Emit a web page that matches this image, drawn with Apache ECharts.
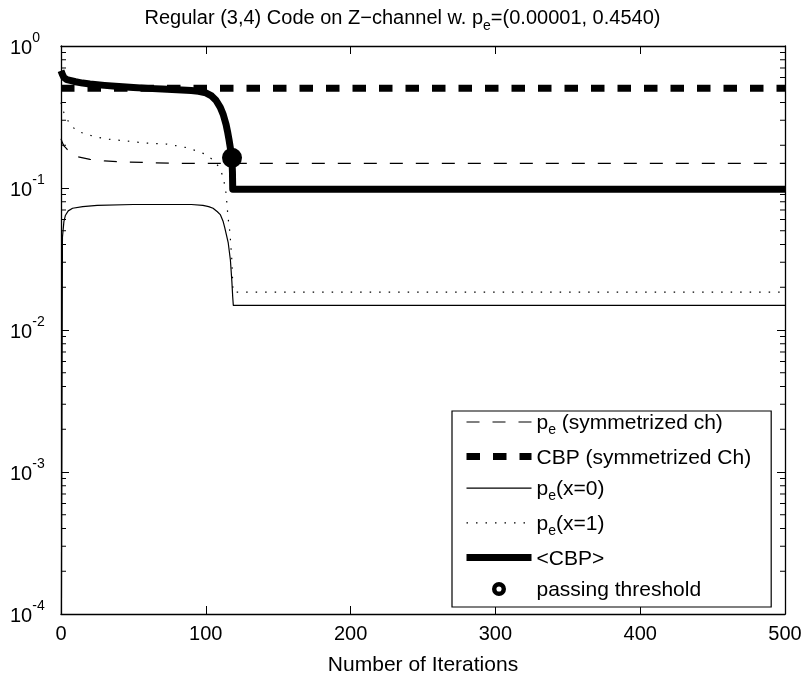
<!DOCTYPE html>
<html>
<head>
<meta charset="utf-8">
<script src="https://cdn.jsdelivr.net/npm/echarts@6/dist/echarts.min.js"></script>
<style>html,body{margin:0;padding:0;background:#fff}#c{width:805px;height:681px}</style>
</head>
<body>
<div id="c"></div>
<script>
// ---- data ----
const xTicks = [0, 100, 200, 300, 400, 500];
const minorTickValues = [];
[1e-4, 1e-3, 1e-2, 1e-1].forEach(function (d) { for (let k = 2; k <= 9; k++) minorTickValues.push(+(k * d).toPrecision(3)); });

const peSymIter = [0, 1, 2, 3.7, 6, 11.7, 20, 30, 40, 60, 80, 500];
const peSymVal  = [0.222, 0.208, 0.198, 0.19, 0.178, 0.166, 0.159, 0.155, 0.153, 0.151, 0.149, 0.149];

const cbpSymIter = [0, 500];
const cbpSymVal  = [0.504, 0.504];

const pe0Iter = [0, 1, 2, 3, 5, 8, 15, 25, 50, 90, 98, 102, 105, 108, 110, 112, 113, 114, 115.5, 117, 118, 118.6, 119, 500];
const pe0Val  = [1e-5, 0.045, 0.058, 0.064, 0.069, 0.072, 0.074, 0.0755, 0.0765, 0.0765, 0.0755, 0.074, 0.072, 0.068, 0.065, 0.058, 0.053, 0.048, 0.041, 0.031, 0.022, 0.017, 0.0149, 0.0149];

const pe1Iter = [0, 1, 2, 3, 6, 11, 17, 24, 32, 46, 59, 73, 79, 86, 92, 99, 105, 109, 112, 114, 115.3, 116.7, 118, 118.8, 500];
const pe1Val  = [0.40, 0.36, 0.34, 0.33, 0.282, 0.252, 0.24, 0.229, 0.221, 0.214, 0.207, 0.204, 0.199, 0.193, 0.185, 0.174, 0.158, 0.141, 0.12, 0.092, 0.063, 0.048, 0.031, 0.0185, 0.0185];

const cbpIter = [0, 1, 2, 4, 7, 10, 15, 20, 30, 40, 50, 60, 70, 80, 90, 95, 100, 104, 107, 110, 112, 114, 115, 116, 117, 117.5, 118, 118.4, 118.6, 500];
const cbpVal  = [0.67, 0.63, 0.6, 0.58, 0.57, 0.56, 0.548, 0.54, 0.528, 0.518, 0.51, 0.503, 0.497, 0.492, 0.486, 0.48, 0.468, 0.445, 0.415, 0.37, 0.33, 0.28, 0.25, 0.22, 0.19, 0.175, 0.163, 0.13, 0.098, 0.098];

const thresholdIter = [118.1];
const thresholdVal  = [0.163];

const names = ['pe_sym', 'cbp_sym', 'pe_x0', 'pe_x1', 'cbp_avg', 'threshold'];
const legendLabels = {
  pe_sym: '{n|p}{sub|e}{n| (symmetrized ch)}',
  cbp_sym: '{n|CBP (symmetrized Ch)}',
  pe_x0: '{n|p}{sub|e}{n|(x=0)}',
  pe_x1: '{n|p}{sub|e}{n|(x=1)}',
  cbp_avg: '{n|<CBP>}',
  threshold: '{n|passing threshold}'
};

function zip(a, b) { return a.map(function (v, i) { return [v, b[i]]; }); }

const FONT = '"Liberation Sans", Arial, Helvetica, sans-serif';
const chart = echarts.init(document.getElementById('c'), null, { renderer: 'canvas' });

const ringPath = 'path://M0,-6A6,6,0,1,1,0,6A6,6,0,1,1,0,-6ZM0,-2.2A2.2,2.2,0,1,0,0,2.2A2.2,2.2,0,1,0,0,-2.2Z';
const hiddenSymbol = { color: 'rgba(0,0,0,0)', borderColor: 'rgba(0,0,0,0)', borderWidth: 0 };

const option = {
  animation: false,
  backgroundColor: '#fff',
  textStyle: { fontFamily: FONT, color: '#000', fontWeight: 'normal' },
  title: {
    text: '{t|Regular (3,4) Code on Z\u2212channel w. p}{sub|e}{t|=(0.00001, 0.4540)}',
    left: 'center',
    top: 3,
    textStyle: {
      fontWeight: 'normal',
      rich: {
        t: { fontFamily: FONT, fontSize: 20, fontWeight: 'normal', verticalAlign: 'top', padding: [0, 0, 5, 0], color: '#000' },
        sub: { fontFamily: FONT, fontSize: 14, fontWeight: 'normal', verticalAlign: 'bottom', color: '#000' }
      }
    }
  },
  grid: { left: 61, right: 20, top: 46, bottom: 66, containLabel: false },
  legend: {
    data: names.map(function (n) {
      if (n === 'threshold') return { name: n, icon: ringPath, itemStyle: { color: '#000', borderWidth: 0 } };
      return { name: n, itemStyle: hiddenSymbol };
    }),
    orient: 'vertical',
    left: 452,
    top: 411,
    itemWidth: 65,
    itemHeight: 14,
    itemGap: 10.6,
    padding: [2, 20, 6, 11],
    borderColor: '#000',
    borderWidth: 1.2,
    backgroundColor: '#fff',
    selectedMode: false,
    lineStyle: { width: 'inherit' },
    formatter: function (name) { return legendLabels[name]; },
    textStyle: {
      rich: {
        n: { fontFamily: FONT, fontSize: 21, verticalAlign: 'top', padding: [6, 0, 3, 0], color: '#000' },
        sub: { fontFamily: FONT, fontSize: 14, verticalAlign: 'bottom', color: '#000' }
      }
    }
  },
  xAxis: [
    {
      type: 'value', min: 0, max: 500, interval: 100, position: 'bottom',
      name: 'Number of Iterations', nameLocation: 'middle', nameGap: 41,
      nameTextStyle: { fontFamily: FONT, fontSize: 21, color: '#000' },
      axisLine: { show: true, onZero: false, lineStyle: { color: '#000', width: 1.3 } },
      axisTick: { show: true, inside: true, length: 8, lineStyle: { color: '#000', width: 1 } },
      axisLabel: { fontFamily: FONT, fontSize: 20, color: '#000', margin: 10 },
      splitLine: { show: false }
    },
    {
      type: 'value', min: 0, max: 500, interval: 100, position: 'top',
      axisLine: { show: true, onZero: false, lineStyle: { color: '#000', width: 1.3 } },
      axisTick: { show: true, inside: true, length: 8, lineStyle: { color: '#000', width: 1 } },
      axisLabel: { show: false },
      splitLine: { show: false }
    }
  ],
  yAxis: [
    {
      type: 'log', logBase: 10, min: 1e-4, max: 1, position: 'left',
      axisLine: { show: true, onZero: false, lineStyle: { color: '#000', width: 1.3 } },
      axisTick: { show: true, inside: true, length: 8, lineStyle: { color: '#000', width: 1 } },
      axisLabel: {
        fontFamily: FONT, color: '#000', margin: 51, align: 'left',
        formatter: function (v) {
          const e = Math.round(Math.log10(v));
          return '{b|10}{s|' + (e < 0 ? '-' + (-e) : e) + '}';
        },
        rich: {
          b: { fontFamily: FONT, fontSize: 20, verticalAlign: 'bottom', padding: [7, 0, 3, 0], color: '#000' },
          s: { fontFamily: FONT, fontSize: 14, verticalAlign: 'top', color: '#000' }
        }
      },
      splitLine: { show: false }
    },
    {
      type: 'log', logBase: 10, min: 1e-4, max: 1, position: 'right',
      axisLine: { show: true, onZero: false, lineStyle: { color: '#000', width: 1.3 } },
      axisTick: { show: true, inside: true, length: 8, lineStyle: { color: '#000', width: 1 } },
      axisLabel: { show: false },
      splitLine: { show: false }
    }
  ],
  series: [
    {
      name: 'minorTicks', type: 'custom', silent: true, clip: false,
      xAxisIndex: 0, yAxisIndex: 0,
      data: minorTickValues.map(function (v) { return [0, v]; }),
      encode: { x: 0, y: 1 },
      renderItem: function (params, api) {
        const p = api.coord([0, api.value(1)]);
        const cs = params.coordSys;
        const st = { stroke: '#000', lineWidth: 1 };
        return {
          type: 'group',
          children: [
            { type: 'line', shape: { x1: cs.x, y1: p[1], x2: cs.x + 5, y2: p[1] }, style: st },
            { type: 'line', shape: { x1: cs.x + cs.width, y1: p[1], x2: cs.x + cs.width - 5, y2: p[1] }, style: st }
          ]
        };
      }
    },
    {
      name: 'pe_sym', type: 'line', symbol: 'none', data: zip(peSymIter, peSymVal),
      lineStyle: { color: '#000', width: 1.2, type: [13, 13] }, itemStyle: { color: '#000' }
    },
    {
      name: 'cbp_sym', type: 'line', symbol: 'none', data: zip(cbpSymIter, cbpSymVal),
      lineStyle: { color: '#000', width: 7, type: [13.5, 13], cap: 'butt' }, itemStyle: { color: '#000' }
    },
    {
      name: 'pe_x0', type: 'line', symbol: 'none', data: zip(pe0Iter, pe0Val),
      lineStyle: { color: '#000', width: 1.2 }, itemStyle: { color: '#000' }
    },
    {
      name: 'pe_x1', type: 'line', symbol: 'none', data: zip(pe1Iter, pe1Val),
      lineStyle: { color: '#000', width: 1.2, type: [1.5, 8] }, itemStyle: { color: '#000' }
    },
    {
      name: 'cbp_avg', type: 'line', symbol: 'none', data: zip(cbpIter, cbpVal),
      lineStyle: { color: '#000', width: 7, join: 'round' }, itemStyle: { color: '#000' }
    },
    {
      name: 'threshold', type: 'scatter', symbol: 'circle', symbolSize: 20,
      data: zip(thresholdIter, thresholdVal),
      itemStyle: { color: '#000', opacity: 1 }
    }
  ]
};
chart.setOption(option);
</script>
</body>
</html>
